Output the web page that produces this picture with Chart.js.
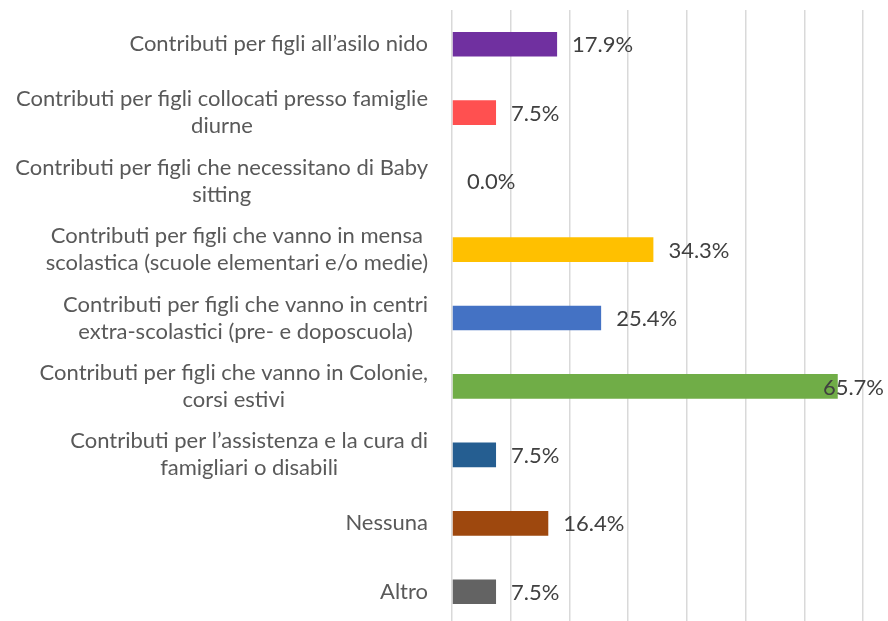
<!DOCTYPE html>
<html>
<head>
<meta charset="utf-8">
<script src="https://cdn.jsdelivr.net/npm/chart.js@4"></script>
<style>
html,body{margin:0;padding:0;background:#fff;overflow:hidden;}
#wrap{width:888px;height:630px;position:relative;}
</style>
</head>
<body>
<div id="wrap"><canvas id="c"></canvas></div>
<script>
const categories = [
  ["Contributi per figli all’asilo nido"],
  ["Contributi per figli collocati presso famiglie", "diurne"],
  ["Contributi per figli che necessitano di Baby", "sitting"],
  ["Contributi per figli che vanno in mensa", "scolastica (scuole elementari e/o medie)"],
  ["Contributi per figli che vanno in centri", "extra-scolastici (pre- e doposcuola)"],
  ["Contributi per figli che vanno in Colonie,", "corsi estivi"],
  ["Contributi per l’assistenza e la cura di", "famigliari o disabili"],
  ["Nessuna"],
  ["Altro"]
];
const values = [17.9, 7.5, 0.0, 34.3, 25.4, 65.7, 7.5, 16.4, 7.5];
const barColors = ["#7030A0", "#FF5050", "#A5A5A5", "#FFC000", "#4472C4", "#70AD47", "#255E91", "#9E480E", "#636363"];
const axisMin = 0, axisMax = 70, axisStep = 10;

const FONT = "Lato";
const catFontSize = 22;
const valFontSize = 22;

const labelPlugin = {
  id: 'labels',
  afterDatasetsDraw(chart) {
    const ctx = chart.ctx;
    const yScale = chart.scales.y;
    const xScale = chart.scales.x;
    ctx.save();
    // category labels
    ctx.font = catFontSize + "px " + FONT;
    ctx.fillStyle = "#595959";
    ctx.textAlign = "center";
    ctx.textBaseline = "middle";
    const rightEdge = chart.chartArea.left - 24;
    const lineH = 27;
    categories.forEach((lines, i) => {
      const yc = yScale.getPixelForValue(i);
      const w = Math.max(...lines.map(l => ctx.measureText(l).width));
      const xc = rightEdge - w / 2;
      const y0 = yc - (lines.length - 1) * lineH / 2;
      lines.forEach((l, k) => ctx.fillText(l, xc, y0 + k * lineH));
    });
    // value labels
    ctx.font = valFontSize + "px " + FONT;
    ctx.fillStyle = "#404040";
    ctx.textAlign = "left";
    const meta = chart.getDatasetMeta(0);
    meta.data.forEach((bar, i) => {
      const txt = values[i].toFixed(1) + "%";
      const w = ctx.measureText(txt).width;
      let x = xScale.getPixelForValue(values[i]) + 15;
      const limit = chart.width - 4;
      if (x + w > limit) x = limit - w;
      ctx.fillText(txt, x, bar.y + 1);
    });
    ctx.restore();
  }
};

new Chart(document.getElementById('c'), {
  type: 'bar',
  data: {
    labels: categories,
    datasets: [{
      data: values,
      backgroundColor: barColors,
      barPercentage: 0.6,
      categoryPercentage: 0.6
    }]
  },
  options: {
    indexAxis: 'y',
    responsive: true,
    maintainAspectRatio: false,
    animation: false,
    layout: { padding: { left: 452, right: 25, top: 10, bottom: 4 } },
    plugins: { legend: { display: false }, tooltip: { enabled: false } },
    scales: {
      x: {
        min: axisMin, max: axisMax,
        ticks: { display: false, stepSize: axisStep },
        grid: { color: "#D9D9D9", lineWidth: 1.5, drawTicks: false },
        border: { display: false }
      },
      y: { display: false }
    }
  },
  plugins: [labelPlugin]
});
</script>
</body>
</html>
